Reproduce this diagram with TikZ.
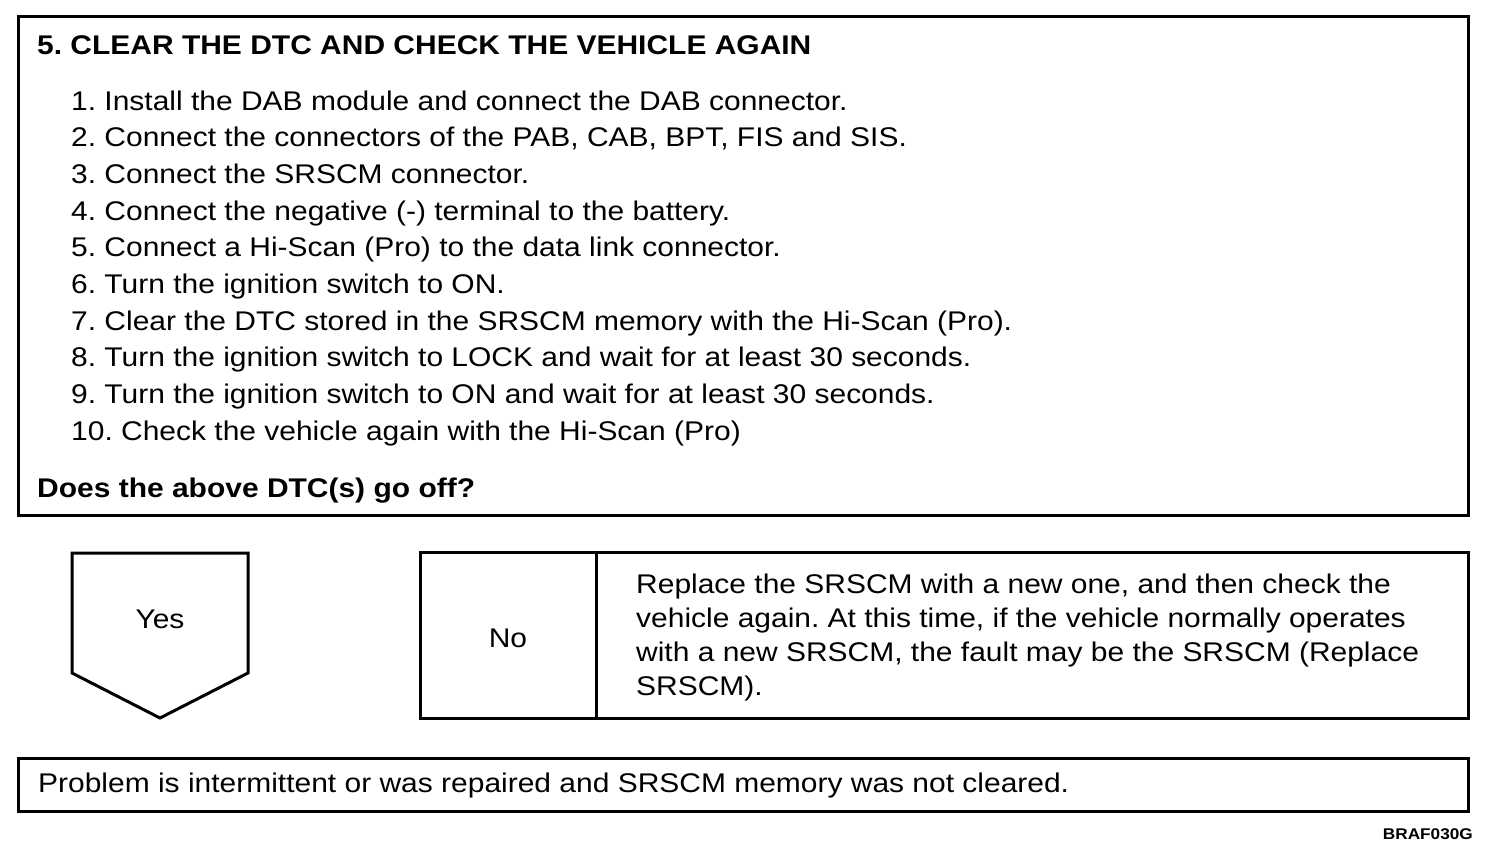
\documentclass[tikz,border=0pt]{standalone}
\usepackage{fontspec}
\setmainfont{Liberation Sans}[FakeStretch=1.11]
\begin{document}
\frenchspacing
\begin{tikzpicture}[x=1pt,y=-1pt,
  frame/.style={draw=black,line width=3pt,inner sep=0pt},
  txt/.style={inner sep=0pt,anchor=base west,font=\fontsize{27}{27}\selectfont},
  btxt/.style={txt,font=\fontsize{27}{27}\selectfont\bfseries},
  lbl/.style={inner sep=0pt,font=\fontsize{27}{27}\selectfont}]
\useasboundingbox[fill=white] (0,0) rectangle (1504,852);
% main box
\node[frame,anchor=north west,minimum width=1450pt,minimum height=499pt] (main) at (17,15) {};
\node[btxt] (title) at (37,54) {5. CLEAR THE DTC AND CHECK THE VEHICLE AGAIN};
\foreach \t [count=\i] in {
  {1. Install the DAB module and connect the DAB connector.},
  {2. Connect the connectors of the PAB, CAB, BPT, FIS and SIS.},
  {3. Connect the SRSCM connector.},
  {4. Connect the negative (-) terminal to the battery.},
  {5. Connect a Hi-Scan (Pro) to the data link connector.},
  {6. Turn the ignition switch to ON.},
  {7. Clear the DTC stored in the SRSCM memory with the Hi-Scan (Pro).},
  {8. Turn the ignition switch to LOCK and wait for at least 30 seconds.},
  {9. Turn the ignition switch to ON and wait for at least 30 seconds.},
  {10. Check the vehicle again with the Hi-Scan (Pro)}}
  \node[txt] (step\i) at (71,{110+36.7*(\i-1)}) {\t};
\node[btxt] (question) at (37,497) {Does the above DTC(s) go off?};
% Yes pentagon
\coordinate (ya) at (72,553);
\coordinate (yb) at (248,553);
\coordinate (yc) at (248,673);
\coordinate (yd) at (160,718);
\coordinate (ye) at (72,673);
\draw[line width=3pt,line join=miter] (ya) -- (yb) -- (yc) -- (yd) -- (ye) -- cycle;
\node[lbl] (yes) at (160,619) {Yes};
% No box
\node[frame,anchor=north west,minimum width=1048pt,minimum height=166pt] (nobox) at (419,551) {};
\coordinate (dtop) at (596,551);
\coordinate (dbot) at (596,717);
\draw[line width=3pt] (dtop) -- (dbot);
\node[lbl] (no) at (508,638) {No};
\node[txt] (r1) at (636,593) {Replace the SRSCM with a new one, and then check the};
\node[txt] (r2) at (636,627) {vehicle again. At this time, if the vehicle normally operates};
\node[txt] (r3) at (636,661) {with a new SRSCM, the fault may be the SRSCM (Replace};
\node[txt] (r4) at (636,695) {SRSCM).};
% bottom box
\node[frame,anchor=north west,minimum width=1450pt,minimum height=53pt] (result) at (17,757) {};
\node[txt] (rtext) at (38,792) {Problem is intermittent or was repaired and SRSCM memory was not cleared.};
% figure code
\node[inner sep=0pt,anchor=base east,font=\fontsize{15.5}{15.5}\selectfont\bfseries] (code) at (1473,839) {BRAF030G};
\end{tikzpicture}
\end{document}
